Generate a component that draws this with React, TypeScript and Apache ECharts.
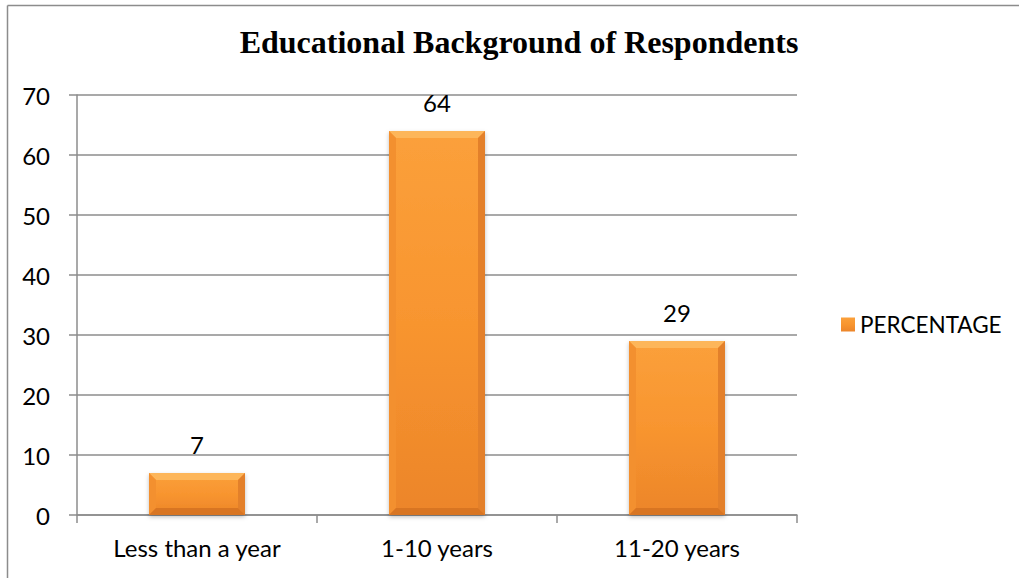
import React, { useEffect, useRef } from "react";
import * as echarts from "echarts";

const categories = ["Less than a year", "1-10 years", "11-20 years"];
const percentages = [7, 64, 29];
const yTicks = { min: 0, max: 70, interval: 10 };
const seriesName = "PERCENTAGE";
const titleText = "Educational Background of Respondents";

const FONT = "Lato, 'Open Sans', sans-serif";
const AXIS_GRAY = "#8c8c8c";

export default function App() {
  const ref = useRef<HTMLDivElement>(null);

  useEffect(() => {
    if (!ref.current) return;
    const chart = echarts.init(ref.current, undefined, { renderer: "svg" });

    // bevel overlay drawn on top of each bar
    const renderBevel = (params: any, api: any) => {
      const idx = api.value(0);
      const val = api.value(1);
      const top = api.coord([idx, val]);
      const base = api.coord([idx, 0]);
      const w = api.size([1, 0])[0] * 0.4;
      const l = top[0] - w / 2;
      const r = l + w;
      const t = top[1];
      const b = base[1];
      const bv = Math.min(7, (b - t) / 3);
      return {
        type: "group",
        silent: true,
        children: [
          {
            type: "polygon",
            shape: { points: [[l, t], [r, t], [r - bv, t + bv], [l + bv, t + bv]] },
            style: { fill: "#fdb65a" },
          },
          {
            type: "polygon",
            shape: { points: [[l, t], [l + bv, t + bv], [l + bv, b - bv], [l, b]] },
            style: { fill: "#f3902f" },
          },
          {
            type: "polygon",
            shape: { points: [[r, t], [r, b], [r - bv, b - bv], [r - bv, t + bv]] },
            style: { fill: "#e3802a" },
          },
          {
            type: "polygon",
            shape: { points: [[l, b], [l + bv, b - bv], [r - bv, b - bv], [r, b]] },
            style: { fill: "#d87522" },
          },
        ],
      };
    };

    chart.setOption({
      animation: false,
      backgroundColor: "#ffffff",
      title: {
        text: titleText,
        left: 514,
        textAlign: "center",
        top: 21,
        textStyle: {
          fontFamily: "'Liberation Serif', 'Times New Roman', serif",
          fontWeight: "bold",
          fontSize: 32,
          color: "#000",
        },
      },
      legend: {
        data: [seriesName],
        orient: "vertical",
        left: 836,
        top: 308,
        icon: "rect",
        itemWidth: 14,
        itemHeight: 14,
        itemGap: 8,
        textStyle: { fontFamily: FONT, fontSize: 22.5, color: "#000" },
      },
      grid: { left: 77, right: 222, top: 95, bottom: 63 },
      xAxis: {
        type: "category",
        data: categories,
        axisLine: { lineStyle: { color: AXIS_GRAY, width: 1.5 } },
        axisTick: { show: true, length: 8, alignWithLabel: false, lineStyle: { color: AXIS_GRAY, width: 1.5 } },
        axisLabel: { margin: 20, fontFamily: FONT, fontSize: 24, color: "#000" },
      },
      yAxis: {
        type: "value",
        min: yTicks.min,
        max: yTicks.max,
        interval: yTicks.interval,
        axisLine: { show: true, lineStyle: { color: AXIS_GRAY, width: 1.5 } },
        axisTick: { show: true, length: 8, lineStyle: { color: AXIS_GRAY, width: 1.5 } },
        splitLine: { lineStyle: { color: AXIS_GRAY, width: 1.5 } },
        axisLabel: { margin: 27, fontFamily: FONT, fontSize: 24, color: "#000" },
      },
      series: [
        {
          name: seriesName,
          type: "bar",
          data: percentages,
          barWidth: "40%",
          itemStyle: {
            color: new echarts.graphic.LinearGradient(0, 0, 0, 1, [
              { offset: 0, color: "#fba03b" },
              { offset: 0.5, color: "#f8952f" },
              { offset: 1, color: "#ec852a" },
            ]),
            shadowColor: "rgba(0,0,0,0.25)",
            shadowBlur: 4,
            shadowOffsetY: 2,
          },
          label: {
            show: true,
            position: "top",
            distance: 17,
            fontFamily: FONT,
            fontSize: 24,
            color: "#000",
          },
          z: 2,
        },
        {
          name: "bevel",
          type: "custom",
          data: percentages.map((v, i) => [i, v]),
          renderItem: renderBevel,
          silent: true,
          z: 3,
        },
      ],
      graphic: [
        {
          type: "line",
          shape: { x1: 7.5, y1: 5.5, x2: 1019, y2: 5.5 },
          style: { stroke: "#8c8c8c", lineWidth: 1.5 },
        },
        {
          type: "line",
          shape: { x1: 7.5, y1: 5.5, x2: 7.5, y2: 578 },
          style: { stroke: "#8c8c8c", lineWidth: 1.5 },
        },
      ],
    });

    return () => chart.dispose();
  }, []);

  return (
    <div
      ref={ref}
      style={{ position: "absolute", left: 0, top: 0, width: 1019, height: 578 }}
    />
  );
}
